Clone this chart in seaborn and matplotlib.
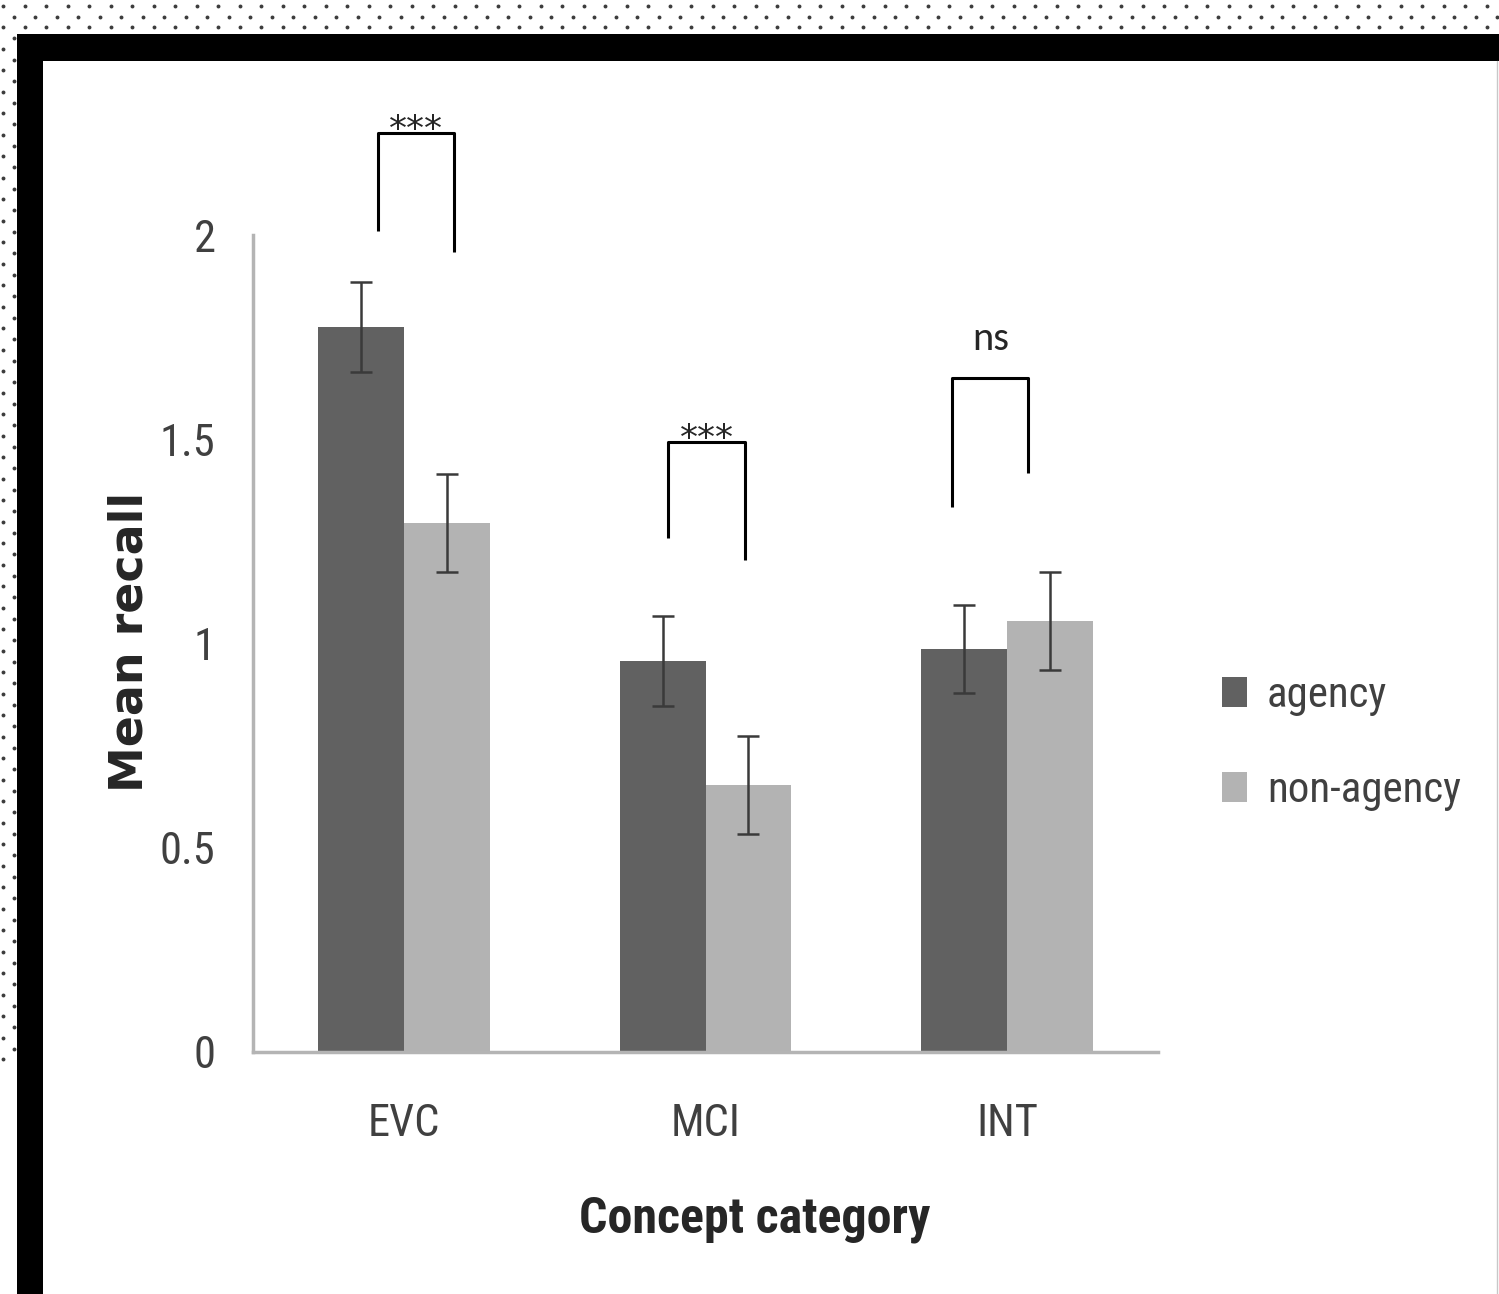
import numpy as np
import pandas as pd
import matplotlib
matplotlib.use("Agg")
import matplotlib.pyplot as plt
import seaborn as sns
from matplotlib import font_manager
from matplotlib.patches import Rectangle

# data
categories = ["EVC", "MCI", "INT"]
conditions = ["agency", "non-agency"]
agency_mean = [1.775, 0.957, 0.987]
agency_err = [0.11, 0.11, 0.108]
nonagency_mean = [1.295, 0.654, 1.055]
nonagency_err = [0.12, 0.12, 0.12]

# significance brackets (x in category units, y in recall units)
bracket_left = [-0.086, 0.877, 1.818]
bracket_right = [0.166, 1.132, 2.07]
bracket_top = [2.25, 1.493, 1.65]
bracket_left_end = [2.01, 1.258, 1.334]
bracket_right_end = [1.958, 1.204, 1.417]
sig_labels = ["***", "***", "ns"]

df = pd.DataFrame({
    "category": categories * 2,
    "condition": [conditions[0]] * 3 + [conditions[1]] * 3,
    "recall": agency_mean + nonagency_mean,
    "err": agency_err + nonagency_err,
})

sns.set_style("white")


def first_font(candidates):
    names = {f.name for f in font_manager.fontManager.ttflist}
    for c in candidates:
        if c in names:
            return c
    return "DejaVu Sans"


# narrow face, close to the squeezed Calibri of the original
narrow = first_font(["Roboto Condensed", "PT Sans Narrow", "Fira Sans Condensed",
                     "Archivo Narrow", "Liberation Sans Narrow", "Liberation Sans"])
calibri = first_font(["Carlito", "Open Sans"])
plt.rcParams["font.family"] = [narrow, "DejaVu Sans"]

W, H = 1499, 1294
fig = plt.figure(figsize=(W / 100, H / 100), dpi=100)

# background frame: dotted margin + thick black border
bg = fig.add_axes([0, 0, 1, 1], zorder=-5)
bg.set_xlim(0, W)
bg.set_ylim(H, 0)
bg.axis("off")
for x0, y0 in [(3.3, 5.7), (14.0, 16.5)]:
    gx, gy = np.meshgrid(np.arange(x0, W, 21.5), np.arange(y0, 1068, 21.5))
    keep = (gy < 33) | (gx < 17)
    bg.plot(gx[keep], gy[keep], "o", ms=2.8, color="#3c3c3c", mec="none")
bg.add_patch(Rectangle((17, 34), W - 17, 27, color="black", lw=0))
bg.add_patch(Rectangle((17, 34), 26, H - 34, color="black", lw=0))
bg.plot([W - 1.5, W - 1.5], [61, H], color="#c8c8c8", lw=1)

ax = fig.add_axes([253 / W, 1 - 1052 / H, (1158 - 253) / W, (1052 - 235) / H])
sns.barplot(
    data=df, x="category", y="recall", hue="condition",
    palette=["#616161", "#b3b3b3"], width=0.57, errorbar=None,
    linewidth=0, edgecolor="none", ax=ax,
)

# error bars on top of the seaborn bars
for cont, errs in zip(ax.containers, [agency_err, nonagency_err]):
    xs = [b.get_x() + b.get_width() / 2 for b in cont]
    ys = [b.get_height() for b in cont]
    ax.errorbar(xs, ys, yerr=errs, fmt="none", ecolor="#3a3a3a",
                elinewidth=1.8, capsize=8, capthick=1.8)

# significance brackets
for xl, xr, yt, yl, yr, lab in zip(bracket_left, bracket_right, bracket_top,
                                   bracket_left_end, bracket_right_end, sig_labels):
    ax.plot([xl, xl, xr, xr], [yl, yt, yt, yr], color="black", lw=2.2,
            clip_on=False, solid_capstyle="butt")
    if lab == "ns":
        ax.text((xl + xr) / 2, yt + 0.095, lab, ha="center", va="center",
                fontsize=29, family=calibri, clip_on=False)
    else:
        ax.text((xl + xr) / 2, yt - 0.018, lab, ha="center", va="baseline",
                fontsize=26, family="DejaVu Sans", clip_on=False)

ax.set_xlim(-0.5, 2.5)
ax.set_ylim(0, 2)
ax.set_yticks([0, 0.5, 1, 1.5, 2])
ax.set_yticklabels(["0", "0.5", "1", "1.5", "2"])
ax.tick_params(axis="y", length=0, pad=27, labelsize=32, labelcolor="#404040")
ax.tick_params(axis="x", length=0, pad=37, labelsize=32, labelcolor="#404040")
sns.despine(ax=ax)
for side in ["left", "bottom"]:
    ax.spines[side].set_color("#b4b4b4")
    ax.spines[side].set_linewidth(2.5)

ax.set_xlabel("Concept category", fontsize=36, fontweight="bold")
ax.xaxis.set_label_coords(0.5547, -0.176)
ax.set_ylabel("Mean recall", fontsize=33, fontweight="bold", family="DejaVu Sans")
ax.yaxis.set_label_coords(-0.111, 0.502)

leg = ax.get_legend()
handles = leg.legend_handles
labels = [t.get_text() for t in leg.get_texts()]
leg.remove()
fig.legend(handles, labels, loc="center left", bbox_to_anchor=(1222 / W, 1 - 743 / H),
           frameon=False, fontsize=31, handlelength=0.59, handleheight=0.7,
           handletextpad=0.45, labelspacing=1.25, borderpad=0, borderaxespad=0,
           labelcolor="#404040")

fig.savefig("out.png", dpi=100)
